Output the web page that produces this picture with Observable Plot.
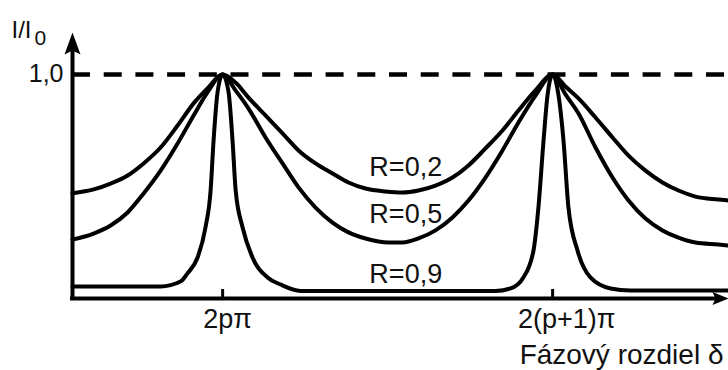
<!DOCTYPE html>
<html>
<head>
<meta charset="utf-8">
<script src="https://cdn.jsdelivr.net/npm/d3@7"></script>
<script src="https://cdn.jsdelivr.net/npm/@observablehq/plot@0.6"></script>
<style>
  html, body { margin: 0; padding: 0; background: #fff; }
  svg { display: block; }
</style>
</head>
<body>
<div id="chart"></div>
<script>
// ---- data (x: phase difference in units of π relative to 2pπ; y: I/I0) ----
const seriesNames = ["R=0,2", "R=0,5", "R=0,9"];

const r02x = [-0.91, -0.782, -0.679, -0.576, -0.479, -0.376, -0.273, -0.176, -0.092, 0,
  0.078, 0.157, 0.260, 0.363, 0.460, 0.563, 0.666, 0.763, 0.866, 0.987,
  1.09, 1.187, 1.29, 1.393, 1.49, 1.593, 1.696, 1.793, 1.896, 2.0,
  2.078, 2.157, 2.26, 2.363, 2.46, 2.563, 2.666, 2.763, 2.866, 3.005, 3.06];
const r02y = [0.470, 0.487, 0.513, 0.549, 0.603, 0.674, 0.772, 0.871, 0.938, 1.0,
  0.964, 0.897, 0.817, 0.737, 0.661, 0.603, 0.558, 0.518, 0.491, 0.478,
  0.473, 0.482, 0.504, 0.540, 0.594, 0.670, 0.750, 0.839, 0.929, 1.0,
  0.946, 0.893, 0.808, 0.719, 0.638, 0.571, 0.518, 0.482, 0.455, 0.442, 0.438];

const r05x = [-0.91, -0.782, -0.679, -0.576, -0.479, -0.376, -0.273, -0.176, -0.092, 0,
  0.078, 0.157, 0.260, 0.363, 0.460, 0.563, 0.666, 0.763, 0.866, 1.005,
  1.09, 1.187, 1.29, 1.393, 1.49, 1.593, 1.696, 1.793, 1.896, 2.0,
  2.078, 2.157, 2.26, 2.363, 2.46, 2.563, 2.666, 2.763, 2.866, 3.005, 3.06];
const r05y = [0.263, 0.290, 0.326, 0.384, 0.469, 0.571, 0.692, 0.817, 0.920, 1.0,
  0.929, 0.848, 0.719, 0.603, 0.496, 0.406, 0.339, 0.295, 0.268, 0.25,
  0.25, 0.268, 0.304, 0.362, 0.4375, 0.540, 0.661, 0.786, 0.906, 1.0,
  0.911, 0.826, 0.674, 0.540, 0.4375, 0.357, 0.304, 0.272, 0.25, 0.241, 0.237];

const r09x = [-0.91, -0.376, -0.255, -0.213, -0.152, -0.104, -0.073, -0.055, -0.031, 0,
  0.036, 0.060, 0.079, 0.121, 0.181, 0.272, 0.351, 0.472,
  1.654, 1.745, 1.823, 1.884, 1.914, 1.945, 1.969, 2.0,
  2.036, 2.066, 2.096, 2.151, 2.229, 2.351, 2.472, 3.06];
const r09y = [0.054, 0.054, 0.076, 0.112, 0.183, 0.317, 0.482, 0.705, 0.920, 1.0,
  0.920, 0.705, 0.482, 0.317, 0.183, 0.094, 0.0625, 0.034,
  0.034, 0.045, 0.094, 0.214, 0.406, 0.705, 0.906, 1.0,
  0.906, 0.705, 0.406, 0.214, 0.094, 0.045, 0.036, 0.036];

const labelX = [1.11, 1.11, 1.11];
const labelY = [0.545, 0.335, 0.067];

const xTickValues = [0, 2];
const xTickLabels = ["2p\u03c0", "2(p+1)\u03c0"];
const yTickValues = [1];
const yTickLabels = ["1,0"];
const yAxisLabel = ["I/I", "0"];
const xAxisLabel = "F\u00e1zov\u00fd rozdiel \u03b4";

const xDomain = [-0.91, 3.06];
const yDomain = [0, 1.183];

// ---- build tables ----
const allX = [r02x, r05x, r09x];
const allY = [r02y, r05y, r09y];
const rows = [];
seriesNames.forEach((name, s) => {
  allX[s].forEach((x, i) => rows.push({series: name, x, y: allY[s][i]}));
});
const labelRows = seriesNames.map((t, i) => ({x: labelX[i], y: labelY[i], text: t}));
const xTickRows = xTickValues.map((v, i) => ({x: v, y: 0, text: xTickLabels[i]}));
const yTickRows = yTickValues.map((v, i) => ({x: xDomain[0], y: v, text: yTickLabels[i]}));

const FONT = "Liberation Sans, Arial, Helvetica, sans-serif";

// arrowhead symbols (tip at anchor point)
const arrowUp = {
  draw(ctx) {
    ctx.moveTo(0, -1);
    ctx.lineTo(8, 21);
    ctx.lineTo(0, 17);
    ctx.lineTo(-8, 21);
    ctx.closePath();
  }
};
const arrowRight = {
  draw(ctx) {
    ctx.moveTo(1, 0);
    ctx.lineTo(-15, -6.5);
    ctx.lineTo(-12, 0);
    ctx.lineTo(-15, 6.5);
    ctx.closePath();
  }
};

const textStyle = {fill: "#111", fontFamily: FONT};

const chart = Plot.plot({
  width: 728,
  height: 370,
  marginLeft: 72,
  marginRight: 1,
  marginTop: 33,
  marginBottom: 72,
  style: {fontFamily: FONT, background: "#fff", color: "#000"},
  x: {domain: xDomain, axis: null},
  y: {domain: yDomain, axis: null},
  marks: [
    Plot.ruleY(yTickValues, {stroke: "#000", strokeWidth: 4.5, strokeDasharray: "18,13.7"}),
    Plot.line(rows, {x: "x", y: "y", z: "series", stroke: "#000", strokeWidth: 4,
      curve: "monotone-x", strokeLinejoin: "round", strokeLinecap: "round"}),
    Plot.ruleX([xDomain[0]], {stroke: "#000", strokeWidth: 4, insetTop: 12, strokeLinecap: "square"}),
    Plot.ruleY([yDomain[0]], {stroke: "#000", strokeWidth: 4, insetRight: 10, strokeLinecap: "square"}),
    Plot.axisX(xTickValues, {tickSize: -9, tickFormat: () => "", strokeWidth: 3, label: null}),
    Plot.dot([{x: xDomain[0], y: yDomain[1]}], {x: "x", y: "y", symbol: arrowUp, fill: "#000", stroke: "none"}),
    Plot.dot([{x: xDomain[1], y: yDomain[0]}], {x: "x", y: "y", symbol: arrowRight, fill: "#000", stroke: "none"}),
    Plot.text(labelRows, {x: "x", y: "y", text: "text", fontSize: 27,
      textAnchor: "middle", lineAnchor: "bottom", ...textStyle}),
    Plot.text([xTickRows[0]], {x: "x", y: "y", text: "text", fontSize: 27,
      textAnchor: "middle", lineAnchor: "bottom", dy: 29, dx: 5, ...textStyle}),
    Plot.text([xTickRows[1]], {x: "x", y: "y", text: "text", fontSize: 27,
      textAnchor: "middle", lineAnchor: "bottom", dy: 29, dx: 14, ...textStyle}),
    Plot.text(yTickRows, {x: "x", y: "y", text: "text", fontSize: 25,
      textAnchor: "end", lineAnchor: "middle", dx: -9, ...textStyle}),
    Plot.text([yAxisLabel[0]], {frameAnchor: "top-left", text: d => d, fontSize: 24,
      textAnchor: "start", lineAnchor: "bottom", dx: -61, dy: 4, ...textStyle}),
    Plot.text([yAxisLabel[1]], {frameAnchor: "top-left", text: d => d, fontSize: 21,
      textAnchor: "start", lineAnchor: "bottom", dx: -38, dy: 11, ...textStyle}),
    Plot.text([xAxisLabel], {frameAnchor: "bottom-right", text: d => d, fontSize: 28,
      textAnchor: "end", lineAnchor: "bottom", dx: -4, dy: 65, ...textStyle})
  ]
});

document.getElementById("chart").appendChild(chart);
</script>
</body>
</html>
